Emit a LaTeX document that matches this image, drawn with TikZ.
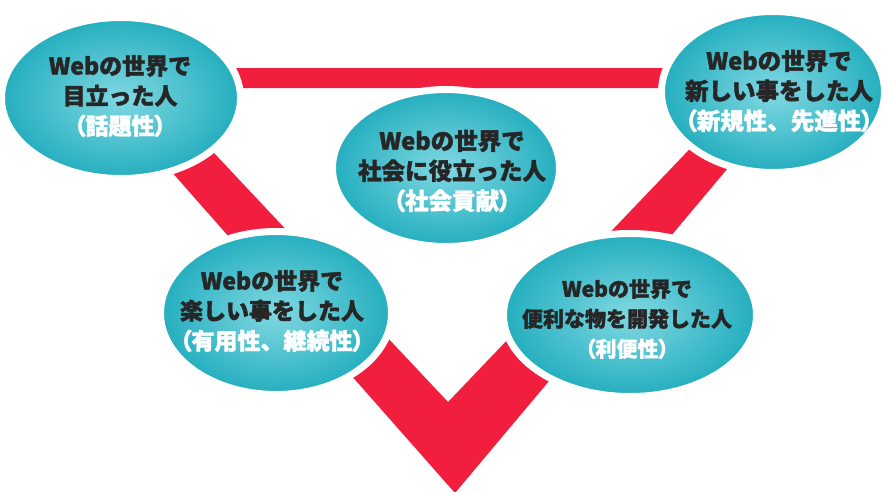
\documentclass[tikz,border=0pt]{standalone}
\usepackage{fontspec}
\newfontfamily\jp{Noto Sans CJK JP}[BoldFeatures={FakeBold=1.6}]
\newfontfamily\jpp{Noto Sans CJK JP}[BoldFeatures={FakeBold=1.6}, RawFeature=+palt]
\usetikzlibrary{shapes.geometric}
\definecolor{bandred}{RGB}{242,30,62}
\definecolor{tealedge}{RGB}{36,174,190}
\definecolor{tealmid}{RGB}{128,216,226}
\definecolor{inkdark}{RGB}{38,38,38}
\tikzset{
  bubble/.style={ellipse, inner sep=0pt, outer sep=0pt, draw=white, line width=7pt,
    inner color=tealmid, outer color=tealedge},
  bubbletext/.style={align=center, inner sep=0pt, text=inkdark,
    font=\jp\bfseries\fontsize{#1}{30}\selectfont},
  band/.style={fill=bandred, even odd rule}
}
\newcommand{\sub}[1]{{\color{white}{\jpp\bfseries （}#1{\jpp\bfseries ）}}}
\begin{document}
\begin{tikzpicture}[x=1pt,y=-1pt]
\fill[white] (0,0) rectangle (883,491);
\useasboundingbox (0,0) rectangle (883,491);
% red triangular band
\fill[band] (80,68) -- (812,68) -- (455,493) -- cycle
            (153,88) -- (748,88) -- (448,402) -- cycle;
% bubbles
\node[bubble, minimum width=239pt, minimum height=161pt] (e1) at (121,98) {};
\node[bubble, minimum width=223pt, minimum height=161pt] (e2) at (773,92) {};
\node[bubble, minimum width=227pt, minimum height=157pt] (e3) at (446,168) {};
\node[bubble, minimum width=231pt, minimum height=163pt] (e4) at (276,313) {};
\node[bubble, minimum width=253pt, minimum height=163pt] (e5) at (630,315) {};
% texts
\node[bubbletext=23] (t1) at (120,96) {Webの世界で\\目立った人\\\sub{話題性}};
\node[bubbletext=23.5] (t2) at (779,91) {Webの世界で\\新しい事をした人\\\sub{新規性、先進性}};
\node[bubbletext=23.5] (t3) at (452,171) {Webの世界で\\社会に役立った人\\\sub{社会貢献}};
\node[bubbletext=23] (t4) at (272,311) {Webの世界で\\楽しい事をした人\\\sub{有用性、継続性}};
\node[bubbletext=21] (t5) at (627,319) {Webの世界で\\便利な物を開発した人\\\sub{利便性}};
\end{tikzpicture}
\end{document}
